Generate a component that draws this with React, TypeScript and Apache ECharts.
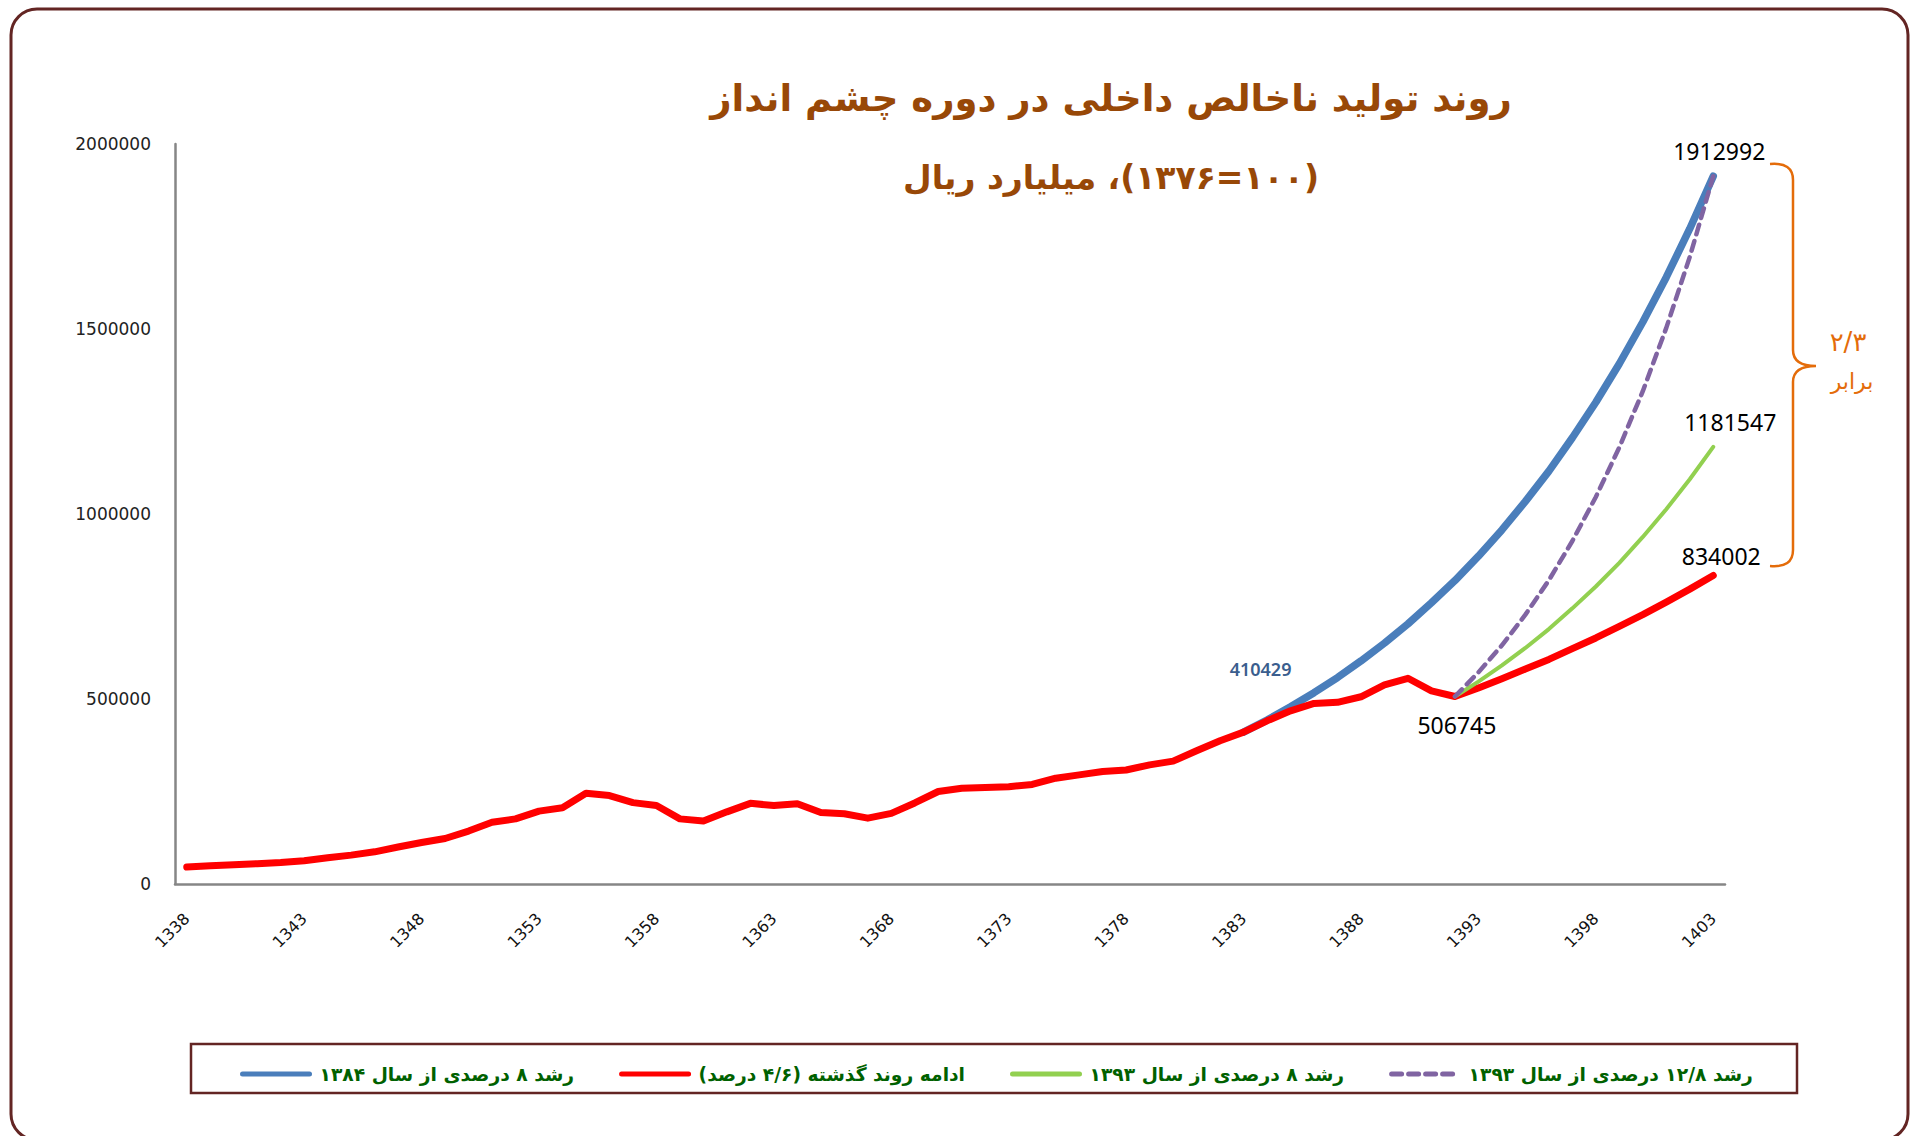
import React, { useEffect, useRef } from "react";
import * as echarts from "echarts";

// ---------- data ----------
const years = [
  "1338", "1339", "1340", "1341", "1342", "1343", "1344", "1345", "1346", "1347",
  "1348", "1349", "1350", "1351", "1352", "1353", "1354", "1355", "1356", "1357",
  "1358", "1359", "1360", "1361", "1362", "1363", "1364", "1365", "1366", "1367",
  "1368", "1369", "1370", "1371", "1372", "1373", "1374", "1375", "1376", "1377",
  "1378", "1379", "1380", "1381", "1382", "1383", "1384", "1385", "1386", "1387",
  "1388", "1389", "1390", "1391", "1392", "1393", "1394", "1395", "1396", "1397",
  "1398", "1399", "1400", "1401", "1402", "1403",
];

// red: actual 1338..1392
const redHistory = [
  46000, 49000, 52000, 55000, 58000, 63000, 71000, 78000, 87000, 100000,
  112000, 123000, 143000, 167000, 176000, 197000, 206000, 245000, 239000, 220000,
  212000, 176000, 170000, 195000, 218000, 212000, 217000, 193000, 190000, 178000,
  191000, 219000, 250000, 259000, 261000, 263000, 269000, 286000, 295000, 304000,
  308000, 322000, 332000, 360000, 387000, 410429, 441000, 468000, 488000, 491000,
  506000, 538000, 556000, 522000, 506745,
];
// red: continuation 1393..1403
const redProjection = [530000, 555000, 581000, 607000, 636000, 665000, 696000, 728000, 762000, 797000, 834002];

// blue: 1383..1403
const blueStart = "1383";
const blueValues = [
  410429, 443000, 479000, 517000, 558000, 603000, 651000, 703000, 760000, 820000,
  886000, 957000, 1034000, 1116000, 1206000, 1302000, 1406000, 1519000, 1640000, 1771000, 1912992,
];
// green: 1392..1403
const greenStart = "1392";
const greenValues = [506745, 547000, 591000, 638000, 689000, 745000, 804000, 868000, 938000, 1013000, 1094000, 1181547];
// purple dashed: 1392..1403
const purpleStart = "1392";
const purpleValues = [506745, 572000, 645000, 728000, 821000, 927000, 1046000, 1180000, 1332000, 1503000, 1695000, 1912992];

const seriesNames = [
  "رشد ۸ درصدی از سال ۱۳۸۴",
  "ادامه روند گذشته (۴/۶ درصد)",
  "رشد ۸ درصدی از سال ۱۳۹۳",
  "رشد ۱۲/۸ درصدی از سال ۱۳۹۳",
];
const seriesColors = ["#4A7EBB", "#FF0000", "#92D050", "#8064A2"];
const titleText = "روند تولید ناخالص داخلی در دوره چشم انداز";
const subtitleText = "(۱۰۰=۱۳۷۶)، میلیارد ریال";
const ratioText = "۲/۳";
const ratioWord = "برابر";
const yTicks = { min: 0, max: 2000000, interval: 500000 };

// ---------- helpers ----------
const rtl = (s: string) => "\u202B" + s + "\u202C";
const place = (start: string, vals: number[]) => {
  const s = years.indexOf(start);
  return years.map((_, i) => (i >= s && i < s + vals.length ? vals[i - s] : null));
};
const withLabels = (data: (number | null)[], color: string, labels: Record<number, any>) =>
  data.map((v, i) =>
    labels[i] && v != null
      ? { value: v, symbol: "circle", symbolSize: 1, itemStyle: { color }, label: { show: true, ...labels[i] } }
      : v
  );

const NUM_FONT = '"Noto Sans", sans-serif';
const FA_FONT = '"DejaVu Sans", sans-serif';

echarts.graphic.registerShape(
  "brace",
  echarts.graphic.extendPath(
    "M0,0 Q23,-2 23,16 L23,186 Q23,202 46,202 Q23,202 23,218 L23,386 Q23,404 0,402",
    {}
  )
);

export default function App() {
  const ref = useRef<HTMLDivElement>(null);
  useEffect(() => {
    if (!ref.current) return;
    const chart = echarts.init(ref.current, undefined, { renderer: "svg" });
    const last = years.length - 1;
    const i1392 = years.indexOf("1392");
    const i1383 = years.indexOf("1383");
    const fmt = (p: any) => String(p.value);
    const bigLabel = { fontFamily: NUM_FONT, fontSize: 23, color: "#000", formatter: fmt };

    const redData = withLabels([...redHistory, ...redProjection], seriesColors[1], {
      [i1392]: { ...bigLabel, position: "bottom", distance: 16, offset: [2, 0] },
      [last]: { ...bigLabel, position: "top", distance: 7, offset: [8, 0] },
    });
    const blueData = withLabels(place(blueStart, blueValues), seriesColors[0], {
      [i1383]: {
        fontFamily: NUM_FONT, fontSize: 18, fontWeight: 600, color: "#3B5E8E",
        position: "top", distance: 54, offset: [17, 0], formatter: fmt,
      },
      [last]: { ...bigLabel, position: "top", distance: 13, offset: [6, 0] },
    });
    const greenData = withLabels(place(greenStart, greenValues), seriesColors[2], {
      [last]: { ...bigLabel, position: "top", distance: 13, offset: [17, 0] },
    });
    const purpleData = place(purpleStart, purpleValues);

    const axisLine = { show: true, lineStyle: { color: "#868686", width: 2.5 } };
    const lineCommon = { type: "line", symbol: "none", showSymbol: true, showAllSymbol: true, connectNulls: false };

    chart.setOption({
      animation: false,
      backgroundColor: "#ffffff",
      grid: { left: 175, right: 189, top: 144, bottom: 252 },
      xAxis: {
        type: "category",
        data: years,
        boundaryGap: true,
        axisLine,
        axisTick: { show: false },
        splitLine: { show: false },
        axisLabel: { interval: 4, rotate: 45, margin: 32, color: "#111", fontSize: 16, fontFamily: FA_FONT },
      },
      yAxis: {
        type: "value",
        ...yTicks,
        axisLine,
        axisTick: { show: false },
        splitLine: { show: false },
        axisLabel: {
          margin: 24, color: "#222", fontSize: 17, fontFamily: FA_FONT,
          formatter: (v: number) => String(v),
        },
      },
      legend: {
        left: 235,
        top: 1057,
        itemWidth: 67,
        itemHeight: 14,
        itemGap: 45,
        lineStyle: { width: 5 },
        itemStyle: { opacity: 0 },
        data: seriesNames,
        formatter: (name: string) => rtl(name),
        textStyle: {
          color: "#006100", fontWeight: "bold", fontSize: 18.7, fontFamily: FA_FONT,
          lineHeight: 24, padding: [0, 0, 0, 5],
        },
      },
      series: [
        {
          ...lineCommon, name: seriesNames[0], data: blueData,
          lineStyle: { color: seriesColors[0], width: 7.5, cap: "round" },
          itemStyle: { color: seriesColors[0] }, z: 2,
        },
        {
          ...lineCommon, name: seriesNames[1], data: redData,
          lineStyle: { color: seriesColors[1], width: 7, cap: "round", join: "round" },
          itemStyle: { color: seriesColors[1] }, z: 3,
        },
        {
          ...lineCommon, name: seriesNames[2], data: greenData,
          lineStyle: { color: seriesColors[2], width: 4, cap: "round" },
          itemStyle: { color: seriesColors[2] }, z: 4,
        },
        {
          ...lineCommon, name: seriesNames[3], data: purpleData,
          lineStyle: { color: seriesColors[3], width: 4.5, type: [10, 7], cap: "round" },
          itemStyle: { color: seriesColors[3] }, z: 5,
        },
      ],
      graphic: [
        {
          type: "rect", z: -10, silent: true,
          shape: { x: 11, y: 9, width: 1897, height: 1131, r: 26 },
          style: { fill: "none", stroke: "#632523", lineWidth: 3 },
        },
        {
          type: "rect", z: -10, silent: true,
          shape: { x: 191, y: 1044, width: 1606, height: 49 },
          style: { fill: "none", stroke: "#632523", lineWidth: 2.5 },
        },
        {
          type: "text", x: 1111, y: 98, silent: true,
          style: {
            text: rtl(titleText), fill: "#984807", font: `bold 37px ${FA_FONT}`,
            align: "center", verticalAlign: "middle",
          },
        },
        {
          type: "text", x: 1111, y: 177, silent: true,
          style: {
            text: rtl(subtitleText), fill: "#984807", font: `bold 33px ${FA_FONT}`,
            align: "center", verticalAlign: "middle",
          },
        },
        {
          type: "brace", x: 1770, y: 164, silent: true,
          style: { fill: "none", stroke: "#E46C0A", lineWidth: 2.5 },
        },
        {
          type: "text", x: 1848, y: 342, silent: true,
          style: { text: ratioText, fill: "#E46C0A", font: `26px ${FA_FONT}`, align: "center", verticalAlign: "middle" },
        },
        {
          type: "text", x: 1852, y: 381, silent: true,
          style: { text: rtl(ratioWord), fill: "#E46C0A", font: `22px ${FA_FONT}`, align: "center", verticalAlign: "middle" },
        },
      ],
    });
    return () => chart.dispose();
  }, []);
  return (
    <div
      ref={ref}
      style={{ position: "fixed", left: 0, top: 0, width: 1914, height: 1136, background: "#fff" }}
    />
  );
}
